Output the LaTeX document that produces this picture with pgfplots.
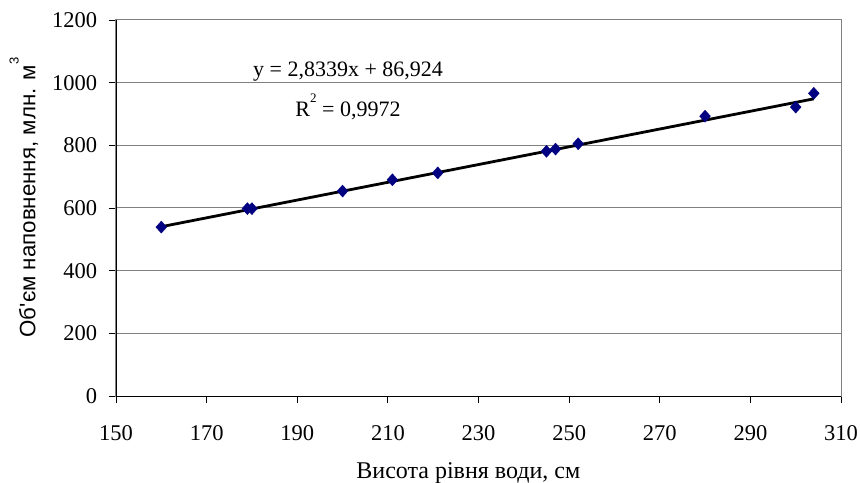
\documentclass[border=0pt]{standalone}
\usepackage{pgfplots}
\pgfplotsset{compat=1.18}
\usepackage{fontspec}
\setmainfont{Liberation Serif}
\newfontfamily\sansf{Liberation Sans}
\definecolor{mk}{RGB}{0,0,128}
\definecolor{gr}{RGB}{128,128,128}
\begin{document}
\begin{tikzpicture}
\begin{axis}[
  scale only axis,
  width=725bp, height=376bp,
  xmin=150, xmax=310, ymin=0, ymax=1200,
  xtick={150,170,...,310},
  ytick={0,200,...,1200},
  tick pos=left,
  tick align=outside,
  major tick length=7bp,
  tick style={black, line width=0.8bp},
  axis line style={draw=gr, line width=1bp},
  ymajorgrids,
  grid style={gr, line width=1bp},
  /pgf/number format/1000 sep={},
  /pgf/number format/assume math mode=true,
  ticklabel style={font=\fontsize{22.5bp}{26bp}\selectfont, inner sep=0pt},
  xticklabel style={anchor=north, yshift=-22bp},
  yticklabel style={anchor=east, xshift=-11.7bp},
  xlabel={Висота рівня води, см},
  xlabel style={font=\fontsize{24bp}{28bp}\selectfont, at={(axis description cs:0.486,-0.2207)}, anchor=base},
  ylabel={Об'єм наповнення, млн. м\raisebox{0.75em}{\fontsize{13bp}{13bp}\selectfont 3}},
  ylabel style={font=\sansf\fontsize{22.3bp}{26bp}\selectfont, at={(axis description cs:-0.127,0.528)}, anchor=center},
  clip=false,
]
\addplot[only marks, mark=diamond*, mark size=6bp, mark options={fill=mk, draw=mk, xscale=1.2}]
  coordinates {(160,539) (179,598) (180,598) (200,654) (211,690) (221,712) (245,781) (247,788) (252,805) (280,893) (300,922) (304,966)};
\addplot[black, line width=2.8bp] coordinates {(160,540.3) (304,948.4)};
\node[anchor=base, font=\fontsize{22bp}{26bp}\selectfont] at (axis cs:201.2,1021) {y = 2,8339x + 86,924};
\node[anchor=base, font=\fontsize{22bp}{26bp}\selectfont] at (axis cs:201.2,893.6) {R\raisebox{0.62em}{\fontsize{13bp}{13bp}\selectfont 2} = 0,9972};
\end{axis}
\draw[black, line width=1bp] (current axis.north west) -- (current axis.south west) -- (current axis.south east);
\pgfresetboundingbox
\useasboundingbox ([xshift=-116bp,yshift=-87bp]current axis.south west) rectangle ([xshift=19bp,yshift=20bp]current axis.north east);
\end{tikzpicture}
\end{document}
